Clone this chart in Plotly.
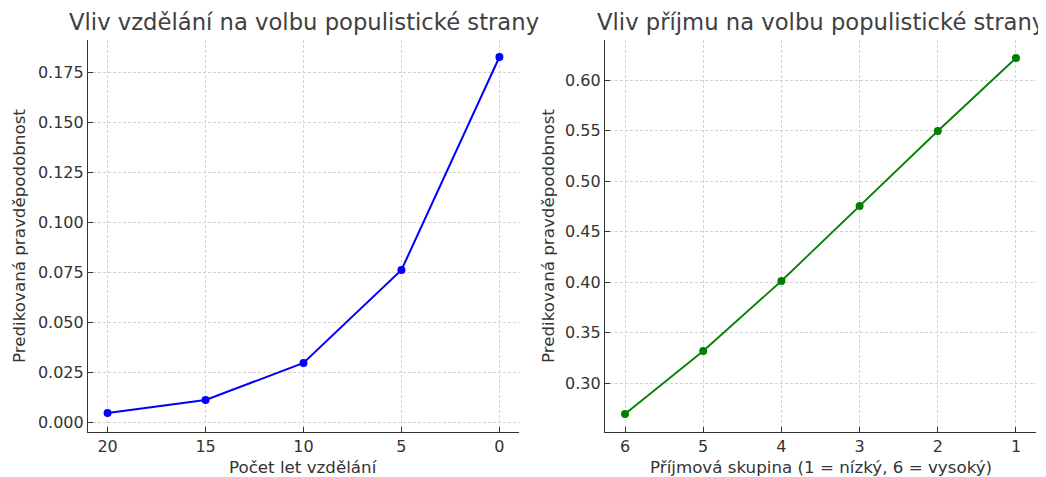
import plotly.graph_objects as go

edu_years = [20, 15, 10, 5, 0]
edu_prob = [0.0045, 0.011, 0.0295, 0.076, 0.1825]
edu_ticks = [0.000, 0.025, 0.050, 0.075, 0.100, 0.125, 0.150, 0.175]

inc_group = [6, 5, 4, 3, 2, 1]
inc_prob = [0.2693, 0.3317, 0.4010, 0.4752, 0.5495, 0.6218]
inc_ticks = [0.30, 0.35, 0.40, 0.45, 0.50, 0.55, 0.60]

FONT = "DejaVu Sans"
TXT = "#333333"
# page body has an 8px margin, so figure coordinates = reference pixels - 8
W, H = 1038, 469
OFF = 8


def px(x):
    return (x - OFF) / W


def py(y):
    return 1 - (y - OFF) / H


fig = go.Figure()
fig.add_trace(go.Scatter(x=edu_years, y=edu_prob, mode="lines+markers",
                         line=dict(color="blue", width=2),
                         marker=dict(color="blue", size=8),
                         xaxis="x", yaxis="y", showlegend=False))
fig.add_trace(go.Scatter(x=inc_group, y=inc_prob, mode="lines+markers",
                         line=dict(color="green", width=1.8),
                         marker=dict(color="green", size=8),
                         xaxis="x2", yaxis="y2", showlegend=False))

common = dict(showgrid=True, gridcolor="#d3d3d3", griddash="3px,2px", gridwidth=0.8,
              showline=True, linecolor="#333333", linewidth=1.2,
              ticks="inside", ticklen=5, tickcolor="#333333", tickwidth=1,
              tickfont=dict(family=FONT, size=16, color=TXT), zeroline=False)

ydom = [py(432), py(40)]
fig.update_layout(
    width=W, height=H, margin=dict(l=0, r=0, t=0, b=0),
    paper_bgcolor="white", plot_bgcolor="white",
    font=dict(family=FONT, color=TXT),
    xaxis=dict(domain=[px(88), px(519)], range=[21.0, -1.0],
               tickvals=[20, 15, 10, 5, 0], **common),
    yaxis=dict(domain=ydom, range=[-0.005, 0.191], tickvals=edu_ticks,
               tickformat=".3f", **common),
    xaxis2=dict(domain=[px(605), px(1036)], range=[6.256, 0.744],
                tickvals=inc_group, anchor="y2", **common),
    yaxis2=dict(domain=ydom, range=[0.2515, 0.6396], tickvals=inc_ticks,
                tickformat=".2f", anchor="x2", **common),
)

ann = [
    dict(text="Vliv vzdělání na volbu populistické strany", x=px(303.5), y=py(22),
         font=dict(size=22.7, color="#404040")),
    dict(text="Vliv příjmu na volbu populistické strany", x=px(820.5), y=py(22),
         font=dict(size=22.7, color="#404040")),
    dict(text="Počet let vzdělání", x=px(303.5), y=py(467), font=dict(size=16.7)),
    dict(text="Příjmová skupina (1 = nízký, 6 = vysoký)", x=px(820.5), y=py(467),
         font=dict(size=16.7)),
    dict(text="Predikovaná pravděpodobnost", x=px(19), y=py(236), textangle=-90,
         font=dict(size=16.7)),
    dict(text="Predikovaná pravděpodobnost", x=px(548), y=py(236), textangle=-90,
         font=dict(size=16.7)),
]
for a in ann:
    a.update(xref="paper", yref="paper", showarrow=False, xanchor="center", yanchor="middle")
    a["font"].setdefault("color", TXT)
    a["font"]["family"] = FONT
fig.update_layout(annotations=ann)

fig.write_html("out.html")
